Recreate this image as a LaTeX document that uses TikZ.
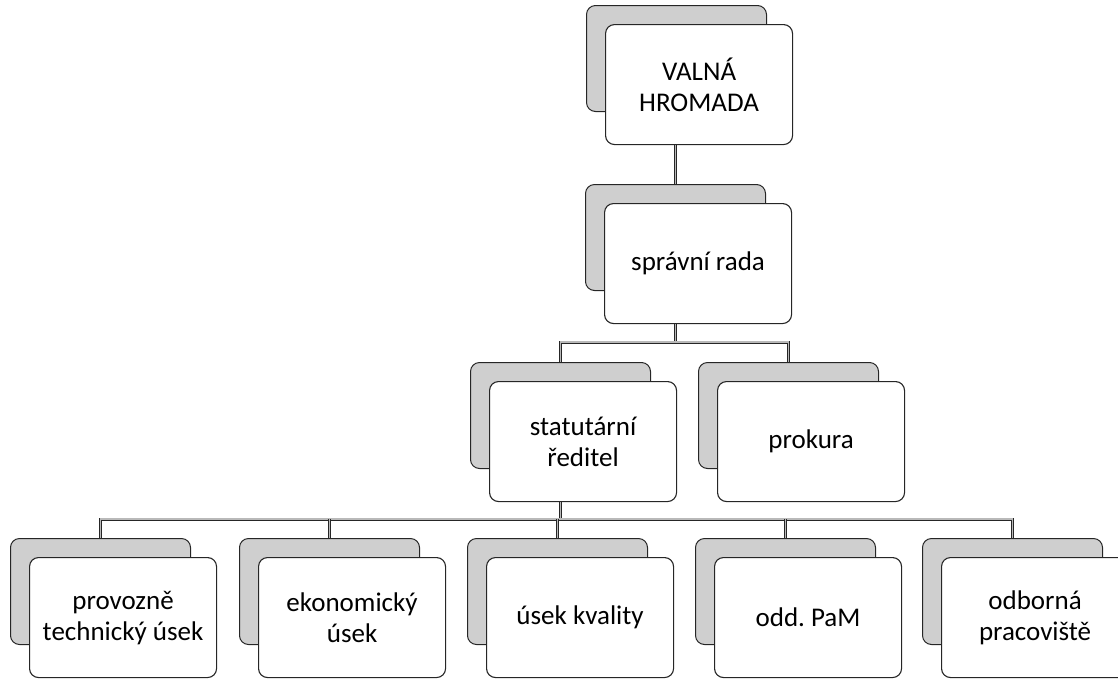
\documentclass[tikz,border=0pt]{standalone}
\usepackage{fontspec}
\setmainfont{Carlito}
\begin{document}
\begin{tikzpicture}[x=1pt,y=-1pt,
  backbox/.style={draw=black!85, line width=1pt, fill=gray!38, rounded corners=9pt, minimum width=180pt, minimum height=106pt, inner sep=0pt},
  frontbox/.style={draw=black!85, line width=1.1pt, fill=white, rounded corners=9pt, minimum width=187pt, minimum height=120pt, inner sep=0pt, align=center, font=\fontsize{27}{31}\selectfont},
  conn/.style={draw=black!85, line width=0.8pt, double=gray!55, double distance=1.4pt}]
\useasboundingbox (0,0) rectangle (1118,681);
\frenchspacing
\newcommand{\orgbox}[4]{%
  \node[backbox, anchor=north west] (#1b) at (#2,#3) {};
  \node[frontbox, anchor=north west] (#1) at (#2+19,#3+19) {#4};
}
\orgbox{vh}{586}{5}{VALNÁ\\HROMADA}
\orgbox{sr}{585}{184}{správní rada}
\orgbox{st}{470}{362}{statutární\\ředitel}
\orgbox{pr}{698}{362}{prokura}
\orgbox{pt}{10}{538}{provozně\\technický úsek}
\orgbox{ek}{239}{538}{ekonomický\\úsek}
\orgbox{uk}{467}{538}{úsek kvality}
\orgbox{pm}{695}{538}{odd. PaM}
\orgbox{ob}{922}{538}{odborná\\pracoviště}
% connectors
\coordinate (bus1) at (0,342);
\coordinate (bus2) at (0,519);
\draw[conn] (srb.north |- vh.south) -- (srb.north);
\draw[conn] (sr.south -| srb.center) -- (bus1 -| srb.center);
\draw[conn] (stb.north) -- (bus1 -| stb.center) -- (bus1 -| prb.center) -- (prb.north);
\draw[conn] (st.south -| stb.center) -- (bus2 -| stb.center);
\draw[conn] (ptb.north) -- (bus2 -| ptb.center) -- (bus2 -| obb.center) -- (obb.north);
\draw[conn] (ekb.north) -- (bus2 -| ekb.center);
\draw[conn] (ukb.north) -- (bus2 -| ukb.center);
\draw[conn] (pmb.north) -- (bus2 -| pmb.center);
\end{tikzpicture}
\end{document}
